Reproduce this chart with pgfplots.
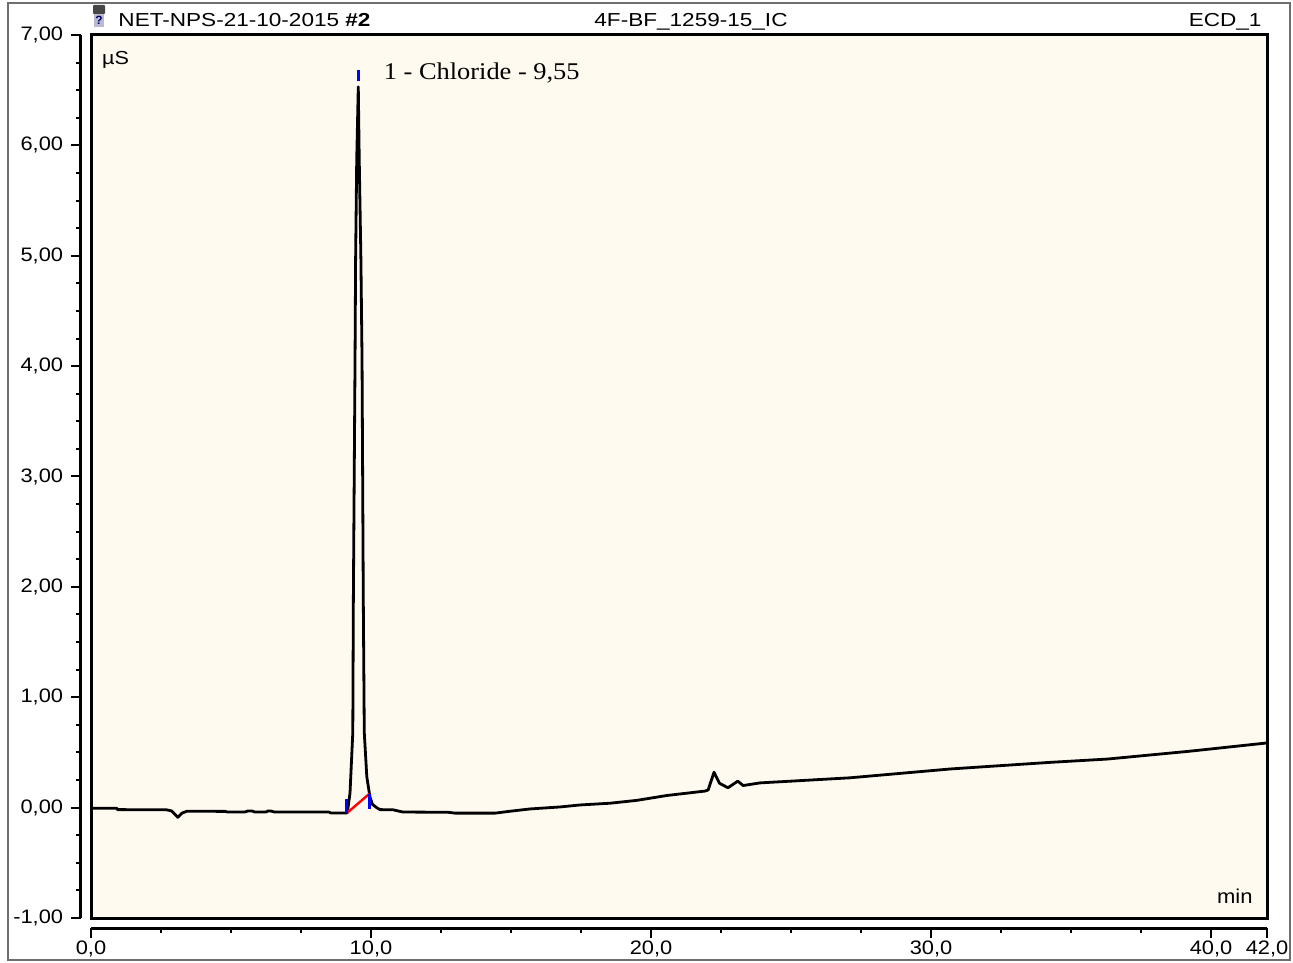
\documentclass[border=0pt]{standalone}
\usepackage{pgfplots}
\pgfplotsset{compat=1.18}
\usepackage{fontspec}
\setmainfont{Liberation Sans}
\newfontfamily\timesfont{Liberation Serif}
\definecolor{bgcream}{RGB}{255,250,239}
\definecolor{framegray}{RGB}{110,110,110}
\begin{document}
\begin{tikzpicture}
\begin{axis}[
  at={(45.5bp,22.5bp)}, anchor=south west,
  scale only axis, width=588bp, height=441.5bp,
  xmin=0, xmax=42, ymin=-1, ymax=7, enlargelimits=false,
  axis lines=left, axis line shift=5bp,
  axis line style={-, line width=1.5bp},
  axis background/.style={fill=bgcream, draw=black, line width=1.5bp},
  tick align=outside,
  major tick length=5bp, minor tick length=2.5bp,
  every tick/.style={black, line width=1bp},
  xtick={0,10,20,30,40,42},
  xticklabels={{0,0},{10,0},{20,0},{30,0},{40,0},{42,0}},
  minor xtick={2.5,5,7.5,12.5,15,17.5,22.5,25,27.5,32.5,35,37.5},
  ytick={-1,0,1,2,3,4,5,6,7},
  yticklabels={{-1,00},{0,00},{1,00},{2,00},{3,00},{4,00},{5,00},{6,00},{7,00}},
  minor y tick num=3,
  yticklabel style={font=\fontsize{9.75bp}{11bp}\selectfont, xscale=1.12},
  xticklabel style={font=\fontsize{9.75bp}{11bp}\selectfont, xscale=1.12, inner sep=0pt, yshift=-1.2bp},
  clip=true,
]
\addplot[black, line width=1.4bp, line join=round] coordinates {
(0,-0.005)(0.92,-0.006)(0.95,-0.018)(2.7,-0.02)(2.88,-0.03)(3.1,-0.088)(3.25,-0.05)(3.42,-0.033)
(4.8,-0.034)(4.87,-0.04)(5.5,-0.04)(5.6,-0.03)(5.75,-0.03)(5.85,-0.04)(6.25,-0.04)(6.32,-0.03)(6.45,-0.032)(6.55,-0.04)
(8.5,-0.04)(8.56,-0.048)(9.1,-0.048)(9.154,-0.047)
(9.25,0.13)(9.35,0.68)(9.37,1.88)(9.43,4.06)(9.45,4.96)(9.49,5.87)(9.546,6.53)
(9.58,5.87)(9.64,4.96)(9.68,4.06)(9.725,1.88)(9.76,0.68)(9.85,0.28)(9.96,0.10)(10.05,0.03)(10.2,0.0)
(10.32,-0.018)(10.79,-0.02)(11.14,-0.04)(12.75,-0.042)(13.0,-0.05)(14.43,-0.05)(14.96,-0.033)
(15.68,-0.012)(16.75,0.006)(17.46,0.024)(18.54,0.04)(19.5,0.066)(20.57,0.11)(21.93,0.15)(22.04,0.16)
(22.25,0.32)(22.45,0.22)(22.75,0.18)(23.1,0.24)(23.29,0.20)(23.89,0.224)(27.1,0.27)(30.68,0.35)
(34.25,0.41)(36.3,0.44)(39.2,0.51)(42,0.586)
};
\addplot[red, line width=1.2bp] coordinates {(9.15,-0.047)(9.94,0.125)};
\addplot[blue, line width=1.5bp] coordinates {(9.13,-0.045)(9.13,0.08)};
\addplot[blue, line width=1.5bp] coordinates {(9.94,-0.01)(9.94,0.127)};
\addplot[blue, line width=1.5bp] coordinates {(9.55,6.58)(9.55,6.68)};
\end{axis}
% icon
\fill[gray!55!black, rounded corners=0.4bp] (46.5bp,474.5bp) rectangle (52.5bp,479bp);
\fill[blue!20!gray!45] (46.8bp,468bp) rectangle (52.2bp,474.5bp);
\node[font=\fontsize{6}{6}\selectfont\bfseries, text=blue!40!black, inner sep=0] at (49.5bp,471.2bp) {?};
% titles
\node[anchor=base west, inner sep=0, font=\fontsize{9.4bp}{11bp}\selectfont, xscale=1.2] at (59bp,468.2bp) {NET-NPS-21-10-2015 \textbf{\#2}};
\node[anchor=base, inner sep=0, font=\fontsize{9.4bp}{11bp}\selectfont, xscale=1.2] at (345.5bp,468.2bp) {4F-BF\_1259-15\_IC};
\node[anchor=base east, inner sep=0, font=\fontsize{9.4bp}{11bp}\selectfont, xscale=1.2] at (631bp,468.2bp) {ECD\_1};
\node[anchor=base west, inner sep=0, font=\fontsize{9.4bp}{11bp}\selectfont, xscale=1.15] at (50.8bp,449bp) {µS};
\node[anchor=base east, inner sep=0, font=\fontsize{10bp}{11bp}\selectfont, xscale=1.1] at (626.5bp,29.85bp) {min};
\node[anchor=base west, inner sep=0, font=\timesfont\fontsize{12bp}{14bp}\selectfont, xscale=1.1] at (191.7bp,441.8bp) {1 - Chloride - 9,55};
\draw[framegray, line width=0.6bp] (4bp,1.5bp) rectangle (645bp,480bp);
\pgfresetboundingbox
\path (0,0) rectangle (646.5bp,481.5bp);
\end{tikzpicture}
\end{document}
